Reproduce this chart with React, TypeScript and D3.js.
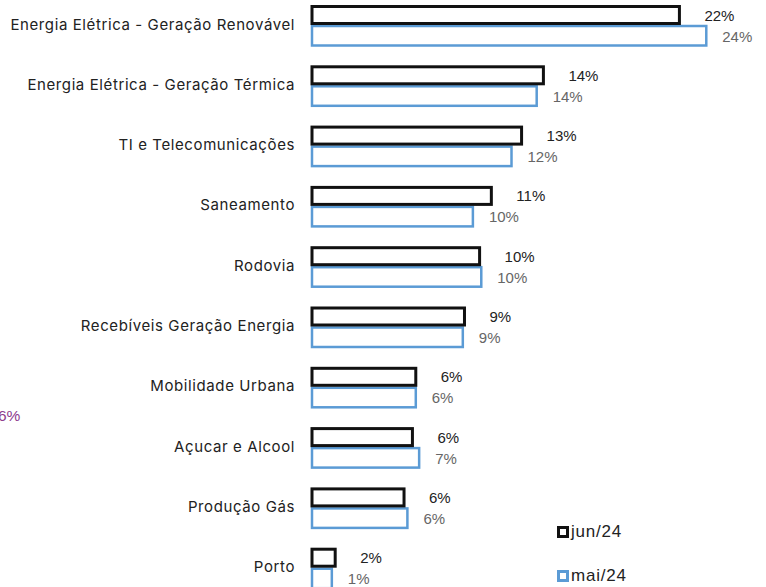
import React from 'react';
import * as d3 from 'd3';

const categories = [
  'Energia Elétrica - Geração Renovável',
  'Energia Elétrica - Geração Térmica',
  'TI e Telecomunicações',
  'Saneamento',
  'Rodovia',
  'Recebíveis Geração Energia',
  'Mobilidade Urbana',
  'Açucar e Alcool',
  'Produção Gás',
  'Porto'
];
const jun24 = [22.0, 13.9, 12.6, 10.8, 10.1, 9.2, 6.3, 6.1, 5.6, 1.5];
const mai24 = [23.6, 13.5, 12.0, 9.7, 10.2, 9.1, 6.3, 6.5, 5.8, 1.3];
const seriesNames = ['jun/24', 'mai/24'];
const strayLabel = '6%';

const width = 766;
const height = 587;
const left = 312;
const black = '#111111';
const blue = '#5b9bd5';
const catFont = 'Inter, "Noto Sans", sans-serif';
const numFont = '"Liberation Sans", Arial, sans-serif';

export default function App() {
  const x = d3.scaleLinear().domain([0, 24]).range([0, 403]);
  const y = d3
    .scaleBand<string>()
    .domain(categories)
    .range([0, categories.length * 60.3]);
  const pct = (v: number) => `${Math.round(v)}%`;

  return (
    <svg
      width={width}
      height={height}
      style={{ position: 'absolute', left: 0, top: 0, background: '#fff' }}
    >
      {categories.map((c, i) => {
        const b = y(c) as number;
        const wb = x(jun24[i]);
        const wm = x(mai24[i]);
        return (
          <g key={c}>
            <rect
              x={left}
              y={b + 26}
              width={wm - 2}
              height={19.5}
              fill="#fff"
              stroke={blue}
              strokeWidth={2.5}
            />
            <rect
              x={left}
              y={b + 6.5}
              width={wb - 2}
              height={17}
              fill="#fff"
              stroke={black}
              strokeWidth={3}
            />
            <text
              x={295}
              y={b + 24}
              textAnchor="end"
              dominantBaseline="central"
              fontFamily={catFont}
              fontSize={15}
              letterSpacing={0.6}
              fill="#222"
            >
              {c}
            </text>
            <text
              x={left + wb + 23}
              y={b + 15}
              dominantBaseline="central"
              fontFamily={numFont}
              fontSize={15}
              fill="#222"
            >
              {pct(jun24[i])}
            </text>
            <text
              x={left + wm + 14}
              y={b + 36}
              dominantBaseline="central"
              fontFamily={numFont}
              fontSize={15}
              fill="#666"
            >
              {pct(mai24[i])}
            </text>
          </g>
        );
      })}
      <text
        x={-2}
        y={415}
        dominantBaseline="central"
        fontFamily={numFont}
        fontSize={15.5}
        fill="#8e3b8e"
      >
        {strayLabel}
      </text>
      {seriesNames.map((s, i) => (
        <g key={s} transform={`translate(557, ${526 + i * 44})`}>
          <rect
            x={1.5}
            y={1.5}
            width={9}
            height={9}
            fill="#fff"
            stroke={i === 0 ? black : blue}
            strokeWidth={3}
          />
          <text
            x={14}
            y={5}
            dominantBaseline="central"
            fontFamily={numFont}
            fontSize={17}
            letterSpacing={0.8}
            fill="#222"
          >
            {s}
          </text>
        </g>
      ))}
    </svg>
  );
}
